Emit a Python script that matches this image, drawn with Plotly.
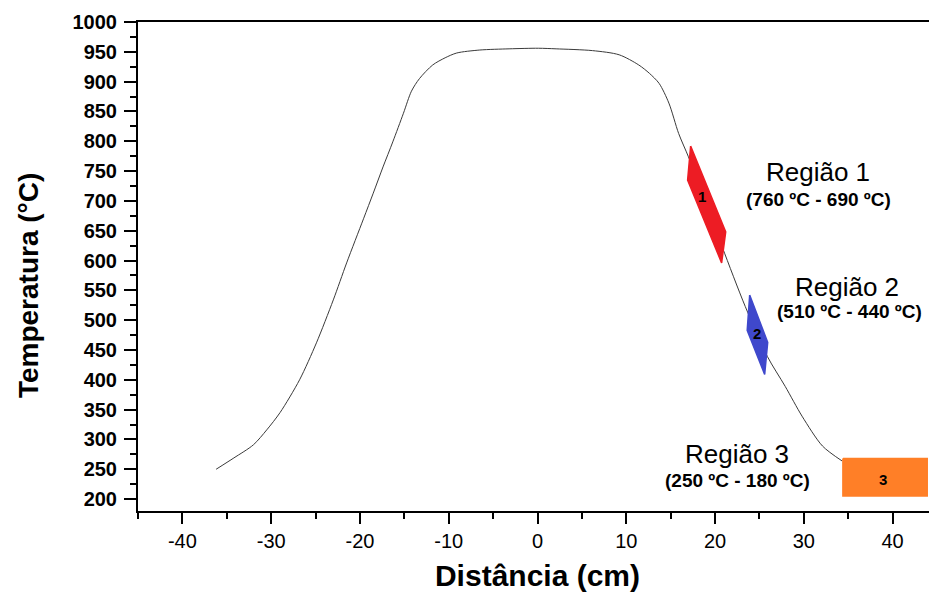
import plotly.graph_objects as go

# Temperature profile along the distance
distancia = [-36.2, -34.2, -32.0, -30.5, -29.0, -26.8, -24.9, -23.0, -21.5, -19.6, -18.5, -17.4, -16.3,
             -15.1, -14.2, -13.3, -11.8, -10.4, -9.1, -6.5, -3.2, 0.1, 2.1, 6.2, 9.2, 11.4, 12.6,
             13.7, 14.8, 15.9, 17.0, 18.6, 20.8, 23.4, 25.9, 27.9, 29.8, 32.1, 34.3]
temperatura = [250, 269, 291, 316, 345, 400, 462, 534, 596, 670, 713, 757, 799,
               847, 884, 905, 928, 940, 948, 953, 955, 956, 955, 952, 945, 928, 914,
               897, 864, 813, 774, 712, 623, 523, 439, 389, 339, 289, 264]

# Highlighted regions (outline vertices)
regiao1_x = [17.25, 21.2, 20.74, 16.91, 17.25]
regiao1_y = [792, 648, 596, 735, 792]
regiao2_x = [23.9, 25.93, 25.59, 23.62, 23.9]
regiao2_y = [542, 463, 409, 483, 542]
regiao3_x = [34.4, 43.9, 43.9, 34.4, 34.4]
regiao3_y = [268, 268, 205, 205, 268]

regiao_nomes = ["Região 1", "Região 2", "Região 3"]
regiao_faixas = ["(760 ºC - 690 ºC)", "(510 ºC - 440 ºC)", "(250 ºC - 180 ºC)"]
regiao_numeros = ["1", "2", "3"]

x_ticks = [-40, -30, -20, -10, 0, 10, 20, 30, 40]
y_ticks = list(range(200, 1001, 50))

FONT = "Arial, Liberation Sans, sans-serif"

fig = go.Figure()

fig.add_trace(go.Scatter(x=distancia, y=temperatura, mode="lines",
                         line=dict(color="#3a3a3a", width=1, shape="spline", smoothing=0.8),
                         hoverinfo="skip", showlegend=False))

for xs, ys, col in [(regiao1_x, regiao1_y, "#ED1C24"),
                    (regiao2_x, regiao2_y, "#3F48CC"),
                    (regiao3_x, regiao3_y, "#FF7F27")]:
    fig.add_trace(go.Scatter(x=xs, y=ys, mode="lines", fill="toself", fillcolor=col,
                             line=dict(color=col, width=1.5), showlegend=False, hoverinfo="skip"))

# number labels inside the regions
num_pos = [(18.5, 708), (24.7, 478), (38.9, 232)]
for (nx, ny), t in zip(num_pos, regiao_numeros):
    fig.add_annotation(x=nx, y=ny, text="<b>%s</b>" % t, showarrow=False,
                       font=dict(family=FONT, size=15, color="black"))

name_pos = [(31.6, 749), (34.9, 555), (22.5, 275)]
range_pos = [(31.6, 702), (35.1, 514), (22.5, 231)]
for (nx, ny), t in zip(name_pos, regiao_nomes):
    fig.add_annotation(x=nx, y=ny, text=t, showarrow=False,
                       font=dict(family=FONT, size=26, color="black"))
for (nx, ny), t in zip(range_pos, regiao_faixas):
    fig.add_annotation(x=nx, y=ny, text="<b>%s</b>" % t, showarrow=False,
                       font=dict(family=FONT, size=19, color="black"))

# y-axis title (as rotated annotation, placed like the reference)
fig.add_annotation(xref="paper", yref="paper", x=-0.1377, y=0.462,
                   text="<b>Temperatura (°C)</b>", textangle=-90, showarrow=False,
                   xanchor="center", yanchor="middle",
                   font=dict(family=FONT, size=28, color="black"))

fig.update_layout(
    width=929, height=584,
    margin=dict(l=130, r=0, t=14, b=81),
    paper_bgcolor="white", plot_bgcolor="white",
    font=dict(family=FONT, color="black"),
    xaxis=dict(range=[-45, 45], tickmode="array", tickvals=x_ticks,
               ticktext=[str(v) for v in x_ticks], automargin=False,
               showgrid=False, zeroline=False, showline=True, linecolor="black", linewidth=2,
               mirror=True, ticks="outside", ticklen=11, tickwidth=2, tickcolor="black",
               minor=dict(dtick=5, tick0=0, ticks="outside", ticklen=6, tickwidth=2,
                          tickcolor="black", showgrid=False),
               tickfont=dict(family=FONT, size=20, color="black"),
               title=dict(text="<b>Distância (cm)</b>", standoff=16,
                          font=dict(family=FONT, size=30, color="black"))),
    yaxis=dict(range=[180, 1000], tickmode="array", tickvals=y_ticks,
               ticktext=["<b>%d</b>" % v for v in y_ticks], automargin=False,
               showgrid=False, zeroline=False, showline=True, linecolor="black", linewidth=2,
               ticks="outside", ticklen=12, tickwidth=2, tickcolor="black",
               minor=dict(dtick=25, tick0=0, ticks="outside", ticklen=6, tickwidth=2,
                          tickcolor="black", showgrid=False),
               ticklabelstandoff=3,
               tickfont=dict(family=FONT, size=20, color="black")),
)

fig.write_html("out.html")
